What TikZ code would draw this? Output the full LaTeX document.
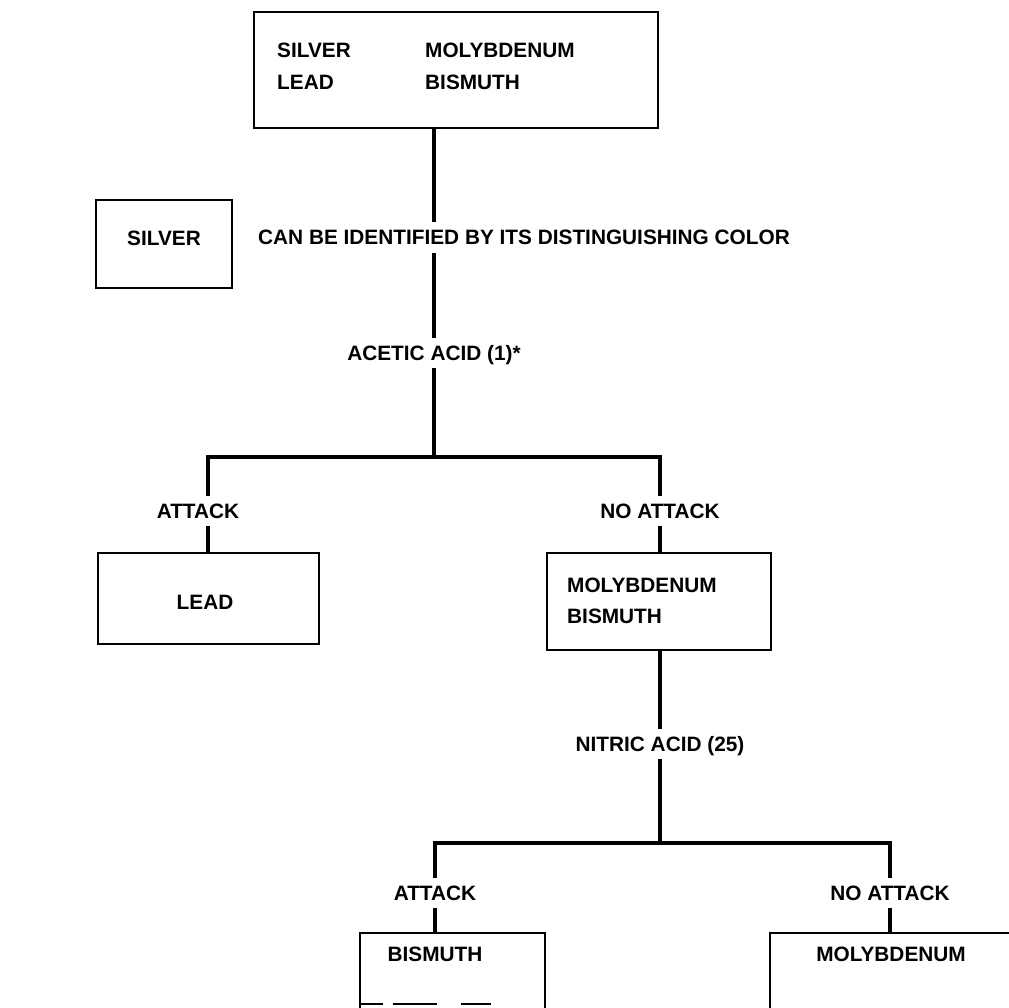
\documentclass[tikz,border=0pt]{standalone}
\usepackage{fontspec}
\setmainfont{Liberation Sans}
\begin{document}
\begin{tikzpicture}[x=1pt,y=-1pt,
  box/.style={draw, line width=2.8pt, inner sep=0pt},
  conn/.style={line width=4.4pt},
  lbl/.style={font=\fontsize{20.8}{24}\selectfont\bfseries, inner sep=0pt, text height=15pt, text depth=0pt},
  glbl/.style={lbl, inner ysep=7pt, inner xsep=2pt}]
\useasboundingbox (0,0) rectangle (1009,1007);
\clip (0,0) rectangle (1009,1007);
% boxes
\node[box, minimum width=404pt, minimum height=116pt] (top) at (456,70) {};
\node[box, minimum width=136pt, minimum height=88pt] (silverbox) at (164,244) {};
\node[box, minimum width=221pt, minimum height=91pt] (lead) at (208.5,598.5) {};
\node[box, minimum width=224pt, minimum height=97pt] (mb) at (659,601.5) {};
\node[box, minimum width=185pt, minimum height=120pt] (bis) at (452.5,993) {};
\node[box, minimum width=260pt, minimum height=120pt] (mol) at (900,993) {};
% scan fragments of the BISMUTH box's lower edge
\draw[line width=2.6pt, dash pattern=on 24pt off 10pt on 44pt off 24pt on 30pt off 60pt] (bis.west |- 0,1004) -- (bis.east |- 0,1004);
% box texts
\node[lbl, anchor=west] (t1) at (277,50) {SILVER};
\node[lbl, anchor=west] (t2) at (425,50) {MOLYBDENUM};
\node[lbl, anchor=west] (t3) at (277,82) {LEAD};
\node[lbl, anchor=west] (t4) at (425,82) {BISMUTH};
\node[lbl] (silvertxt) at (164,238) {SILVER};
\node[lbl] (leadtxt) at (205,602) {LEAD};
\node[lbl, anchor=west] (mb1) at (567,585) {MOLYBDENUM};
\node[lbl, anchor=west] (mb2) at (567,616) {BISMUTH};
\node[lbl] (bistxt) at (435,954) {BISMUTH};
\node[lbl] (moltxt) at (891,954) {MOLYBDENUM};
% labels on connectors
\node[glbl] (acetic) at (434,353) {ACETIC ACID (1)*};
\node[glbl] (att1) at (198,511) {ATTACK};
\node[glbl] (noatt1) at (660,511) {NO ATTACK};
\node[glbl] (nitric) at (660,744) {NITRIC ACID (25)};
\node[glbl] (att2) at (435,893) {ATTACK};
\node[glbl] (noatt2) at (890,893) {NO ATTACK};
% bar coordinates
\coordinate (b1) at (434,457);
\coordinate (b1l) at (208,457);
\coordinate (b1r) at (660,457);
\coordinate (b2) at (660,843);
\coordinate (b2l) at (435,843);
\coordinate (b2r) at (890,843);
% connectors
\draw[conn] (top.south -| acetic) -- (acetic.north);
\node[lbl, fill=white, inner ysep=8pt, anchor=west] (cantxt) at (258,237) {CAN BE IDENTIFIED BY ITS DISTINGUISHING COLOR};
\draw[conn] (acetic.south) -- (b1);
\draw[conn, line cap=rect] (b1l) -- (b1r);
\draw[conn] (b1l) -- (b1l |- att1.north);
\draw[conn] (b1r) -- (noatt1.north);
\draw[conn] (b1l |- att1.south) -- (b1l |- lead.north);
\draw[conn] (noatt1.south) -- (noatt1.south |- mb.north);
\draw[conn] (mb.south -| nitric) -- (nitric.north);
\draw[conn] (nitric.south) -- (b2);
\draw[conn, line cap=rect] (b2l) -- (b2r);
\draw[conn] (b2l) -- (att2.north);
\draw[conn] (b2r) -- (noatt2.north);
\draw[conn] (att2.south) -- (att2.south |- bis.north);
\draw[conn] (noatt2.south) -- (noatt2.south |- mol.north);
\end{tikzpicture}
\end{document}
